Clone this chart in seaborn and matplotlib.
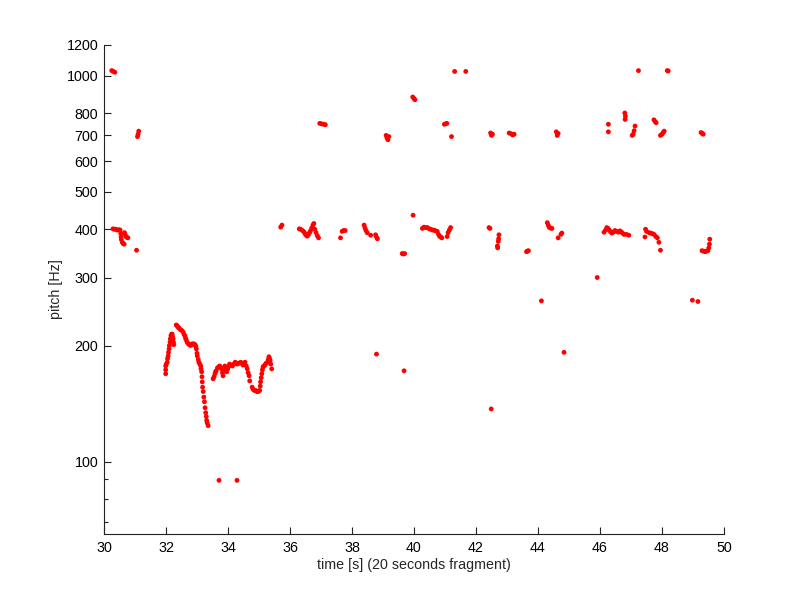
import matplotlib
matplotlib.use("Agg")
import matplotlib.pyplot as plt
from matplotlib.ticker import NullFormatter
import seaborn as sns
import pandas as pd

# pitch track values (time in s, pitch in Hz)

# low contour, 32 - 35.5 s
low_t = [31.99, 31.99, 31.99, 32.01, 32.04, 32.05, 32.07, 32.08, 32.10, 32.11,
         32.13, 32.14, 32.16, 32.18, 32.20, 32.21, 32.23, 32.24, 32.25,
         32.33, 32.36, 32.39, 32.42, 32.46, 32.50, 32.55, 32.58, 32.61, 32.63,
         32.65, 32.68, 32.72, 32.75, 32.79, 32.82, 32.85, 32.90, 32.94, 32.96,
         32.98, 33.00, 33.01, 33.04, 33.06, 33.09, 33.12, 33.13, 33.15, 33.16,
         33.17, 33.18, 33.20, 33.22, 33.24, 33.26, 33.28, 33.30, 33.31, 33.33, 33.36,
         33.52, 33.55, 33.58, 33.60, 33.62, 33.66, 33.70, 33.73, 33.76, 33.79,
         33.82, 33.84, 33.87, 33.90, 33.93, 33.96, 33.99, 34.01, 34.05, 34.10,
         34.14, 34.19, 34.23, 34.27, 34.30, 34.35, 34.41, 34.45, 34.48, 34.52,
         34.55, 34.59, 34.62, 34.65, 34.68, 34.70,
         34.78, 34.81, 34.85, 34.89, 34.93, 34.98, 35.02, 35.04, 35.05, 35.07,
         35.09, 35.11, 35.13, 35.16, 35.19, 35.23, 35.27, 35.30, 35.32, 35.34,
         35.36, 35.38, 35.41]
low_f = [169, 173, 177, 179, 181, 185, 188, 192, 196, 200,
         204, 208, 212, 214, 214, 211, 208, 204, 201,
         226, 225, 223, 222, 220, 219, 217, 214, 212, 209,
         207, 204, 202, 201, 200, 201, 202, 202, 201, 199,
         196, 191, 188, 184, 181, 179, 177, 174, 171, 166,
         161, 156, 152, 147, 143, 138, 134, 131, 128, 126, 124,
         164, 166, 169, 171, 172, 175, 176, 177, 176, 174,
         170, 167, 172, 177, 174, 171, 174, 176, 179, 178,
         177, 179, 181, 180, 179, 180, 181, 180, 178, 180,
         181, 177, 174, 170, 167, 162,
         156, 154, 153, 153, 152, 152, 153, 157, 161, 165,
         169, 173, 176, 177, 178, 180, 181, 184, 187, 185,
         183, 179, 174]

# band around 400 Hz
mid_t = [30.29, 30.33, 30.38, 30.43, 30.48, 30.52, 30.54, 30.55, 30.56, 30.59,
         30.62, 30.65, 30.66, 30.68, 30.71, 30.74, 30.77, 31.05,
         35.70, 35.74,
         36.30, 36.34, 36.40, 36.45, 36.48, 36.52, 36.56, 36.60, 36.63, 36.66,
         36.70, 36.74, 36.77, 36.80, 36.84, 36.88, 36.92,
         37.63, 37.68, 37.73, 37.78,
         38.39, 38.42, 38.45, 38.49, 38.60, 38.76, 38.79, 38.82,
         39.62, 39.66, 39.70, 39.97,
         40.27, 40.32, 40.38, 40.43, 40.49, 40.54, 40.60, 40.65, 40.70, 40.75,
         40.79, 40.82, 40.86, 40.90, 41.07, 41.10, 41.14, 41.18,
         42.42, 42.45, 42.69, 42.70, 42.72, 42.73, 42.74,
         43.63, 43.66, 43.69,
         44.30, 44.33, 44.36, 44.40, 44.45, 44.65, 44.74, 44.77,
         46.13, 46.18, 46.22, 46.26, 46.30, 46.34, 46.38, 46.43, 46.48, 46.53,
         46.59, 46.64, 46.68, 46.73, 46.77, 46.85, 46.93,
         47.45, 47.47, 47.50, 47.58, 47.63, 47.68, 47.74, 47.80, 47.85, 47.90, 47.95,
         49.29, 49.34, 49.39, 49.44, 49.48, 49.51, 49.53, 49.54]
mid_f = [401, 400, 400, 398, 399, 398, 390, 382, 376, 370,
         367, 366, 392, 388, 383, 381, 380, 353,
         405, 410,
         401, 400, 397, 394, 390, 386, 384, 388, 392, 396,
         403, 410, 414, 400, 392, 385, 380,
         380, 395, 397, 397,
         410, 403, 397, 392, 386, 387, 382, 378,
         346, 345, 346, 435,
         402, 405, 404, 404, 401, 400, 398, 398, 396, 395,
         388, 384, 382, 380, 383, 392, 398, 404,
         404, 402, 362, 358, 372, 378, 387,
         350, 351, 352,
         416, 410, 405, 403, 402, 380, 388, 391,
         393, 398, 404, 402, 398, 394, 391, 393, 397, 395,
         393, 396, 394, 391, 388, 388, 386,
         382, 400, 395, 392, 391, 390, 388, 383, 380, 370, 353,
         352, 351, 350, 351, 352, 358, 366, 377]

# upper harmonics, 700 - 1030 Hz
high_t = [30.25, 30.30, 30.35, 31.08, 31.10, 31.12,
          36.96, 37.02, 37.08, 37.14,
          39.10, 39.13, 39.16, 39.19, 39.96, 40.00, 40.03,
          40.98, 41.02, 41.06, 41.21, 41.31, 41.67,
          42.47, 42.50, 42.53, 43.07, 43.13, 43.18, 43.23,
          44.59, 44.62, 44.65,
          46.27, 46.27, 46.80, 46.82, 46.81,
          47.04, 47.07, 47.10, 47.13, 47.24,
          47.74, 47.78, 47.81, 47.95, 48.00, 48.04, 48.07,
          48.17, 48.20, 49.26, 49.30, 49.33]
high_f = [1030, 1025, 1020, 695, 705, 718,
          752, 750, 748, 746,
          700, 690, 682, 695, 880, 872, 866,
          748, 750, 752, 695, 1025, 1025,
          710, 700, 705, 710, 707, 702, 705,
          715, 700, 708,
          748, 715, 800, 785, 770,
          700, 705, 720, 740, 1030,
          768, 760, 755, 700, 705, 712, 718,
          1030, 1028, 712, 708, 705]

# isolated detections
lone_t = [33.71, 34.29, 38.79, 39.68, 42.49, 44.11, 44.84, 45.91, 48.98, 49.16]
lone_f = [89.5, 89.5, 190, 172, 137, 261, 192, 300, 262, 260]

y_major = [100, 200, 300, 400, 500, 600, 700, 800, 1000, 1200]
y_minor = [70, 80, 90]
x_ticks = [30, 32, 34, 36, 38, 40, 42, 44, 46, 48, 50]

df = pd.DataFrame({
    "time": low_t + mid_t + high_t + lone_t,
    "pitch": low_f + mid_f + high_f + lone_f,
})

sns.set_style("white")
plt.rcParams["font.family"] = ["Liberation Sans", "DejaVu Sans"]

fig = plt.figure(figsize=(8, 6), dpi=100)
ax = fig.add_axes([0.13, 0.11, 0.775, 0.815])

sns.scatterplot(data=df, x="time", y="pitch", ax=ax, color="#ff0000",
                s=12, linewidth=0, edgecolor="none")

ax.set_yscale("log")
ax.set_xlim(30, 50)
ax.set_ylim(65, 1200)
ax.set_yticks(y_major)
ax.set_yticklabels([str(v) for v in y_major])
ax.set_yticks(y_minor, minor=True)
ax.yaxis.set_minor_formatter(NullFormatter())
ax.set_xticks(x_ticks)
ax.set_xticklabels([str(v) for v in x_ticks])

for side in ["top", "right"]:
    ax.spines[side].set_visible(False)
for side in ["left", "bottom"]:
    ax.spines[side].set_color("#222222")
    ax.spines[side].set_linewidth(0.8)

# seaborn's white style hides ticks, switch them back on (pointing inwards)
ax.tick_params(axis="x", which="major", bottom=True, direction="in", length=5,
               width=0.8, color="#222222", labelsize=10.3, labelcolor="black", pad=5)
ax.tick_params(axis="y", which="major", left=True, direction="in", length=5,
               width=0.8, color="#222222", labelsize=10.3, labelcolor="black", pad=4)
ax.tick_params(axis="y", which="minor", left=True, direction="in", length=3,
               width=0.8, color="#222222")

ax.set_xlabel("time [s] (20 seconds fragment)", fontsize=10.3, labelpad=2)
ax.set_ylabel("pitch [Hz]", fontsize=10.3, labelpad=3)

fig.savefig("out.png", dpi=100)
